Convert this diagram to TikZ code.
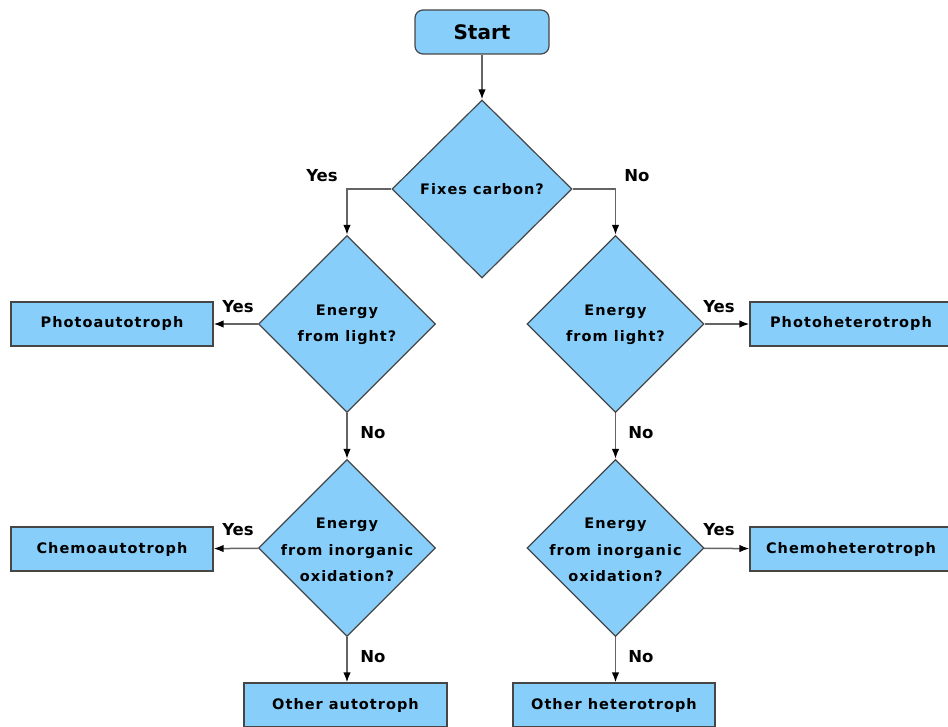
\documentclass[tikz,border=0pt]{standalone}
\usepackage{fontspec}
\setmainfont{DejaVu Sans}
\newfontfamily\boxfont[LetterSpace=7]{DejaVu Sans}
\usetikzlibrary{shapes.geometric,arrows.meta}
\definecolor{boxblue}{RGB}{135,206,250}
\definecolor{edgegray}{RGB}{70,70,70}
\definecolor{linegray}{RGB}{100,100,100}
\tikzset{
  box/.style={draw=edgegray, line width=1.2pt, fill=boxblue, minimum width=202pt, minimum height=44pt, inner sep=0pt, font=\boxfont\bfseries\fontsize{14.5}{16}\selectfont},
  startbox/.style={draw=edgegray, line width=1.2pt, fill=boxblue, rounded corners=8pt, minimum width=134pt, minimum height=44pt, inner sep=0pt, font=\bfseries\fontsize{20}{24}\selectfont},
  dia/.style={diamond, draw=edgegray, line width=1.2pt, fill=boxblue, inner sep=0pt, minimum width=177pt, minimum height=177pt},
  diatext/.style={align=center, inner sep=0pt, font=\boxfont\bfseries\fontsize{14.5}{26.5}\selectfont},
  ans/.style={inner sep=0pt, font=\bfseries\fontsize{16.5}{18}\selectfont},
  conn/.style={draw=linegray, line width=1.5pt, -{Latex[length=10pt,width=7.5pt,black]}}
}
\begin{document}
\begin{tikzpicture}[x=1pt,y=-1pt]
\useasboundingbox (0,0) rectangle (948,727);
\node[startbox] (start) at (482,32) {Start};
\node[dia, minimum width=180pt, minimum height=178pt] (d0) at (482,189) {};
\node[diatext] (t0) at (d0.center) {Fixes carbon?};
\node[dia] (d1) at (347,324) {};
\node[diatext] (t1) at (347,325) {Energy\\from light?};
\node[dia] (d2) at (615.5,324) {};
\node[diatext] (t2) at (615.5,325) {Energy\\from light?};
\node[dia] (d3) at (347,548) {};
\node[diatext] (t3) at (347,550) {Energy\\from inorganic\\oxidation?};
\node[dia] (d4) at (615.5,548) {};
\node[diatext] (t4) at (615.5,550) {Energy\\from inorganic\\oxidation?};
\node[box] (pa) at (112,324) {Photoautotroph};
\node[box] (ph) at (851,324) {Photoheterotroph};
\node[box] (ca) at (112,549) {Chemoautotroph};
\node[box] (ch) at (851,549) {Chemoheterotroph};
\node[box, minimum width=203pt] (oa) at (345.5,705) {Other autotroph};
\node[box] (oh) at (614,705) {Other heterotroph};
\draw[conn] (start) -- (d0);
\draw[conn] (d0.west) -| (d1.north);
\draw[conn] (d0.east) -| (d2.north);
\draw[conn] (d1) -- (pa);
\draw[conn] (d2) -- (ph);
\draw[conn] (d1) -- (d3);
\draw[conn] (d2) -- (d4);
\draw[conn] (d3) -- (ca);
\draw[conn] (d4) -- (ch);
\draw[conn] (d3.south) -- (d3.south |- oa.north);
\draw[conn] (d4.south) -- (d4.south |- oh.north);
\node[ans] (y0) at (322,176) {Yes};
\node[ans] (n0) at (637,176) {No};
\node[ans] (y1) at (238,307) {Yes};
\node[ans] (y2) at (719,307) {Yes};
\node[ans] (n1) at (373,433) {No};
\node[ans] (n2) at (641,433) {No};
\node[ans] (y3) at (238,530) {Yes};
\node[ans] (y4) at (719,530) {Yes};
\node[ans] (n3) at (373,657) {No};
\node[ans] (n4) at (641,657) {No};
\end{tikzpicture}
\end{document}
